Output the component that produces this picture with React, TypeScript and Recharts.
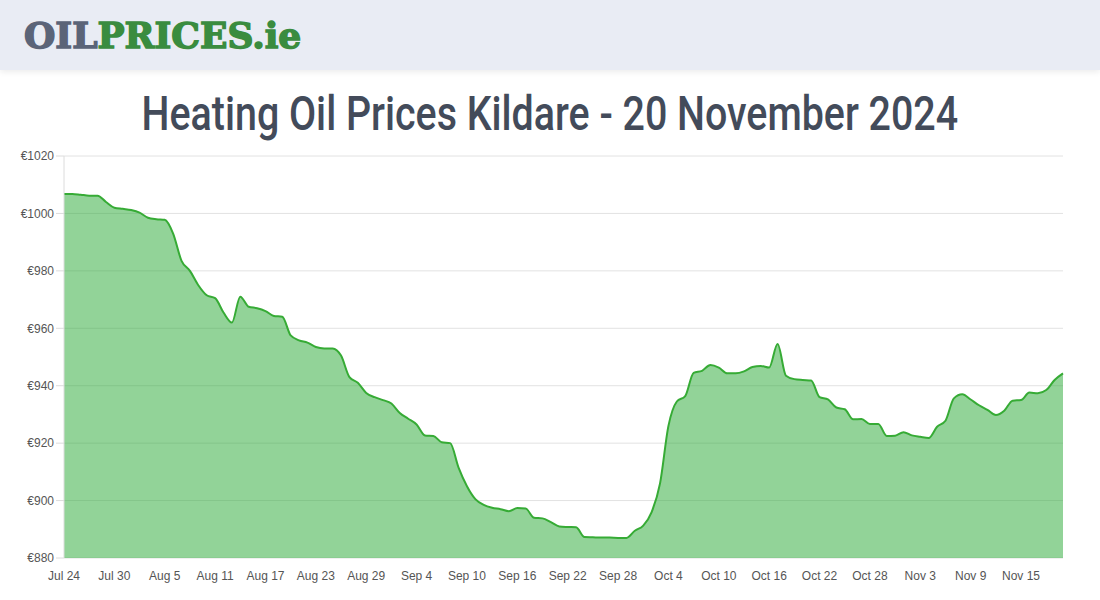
import { AreaChart, Area, XAxis, YAxis, CartesianGrid } from "recharts";

// daily dates, Jul 24 -> Nov 20 2024
const dates = [
  "Jul 24", "Jul 25", "Jul 26", "Jul 27", "Jul 28", "Jul 29", "Jul 30", "Jul 31",
  "Aug 1", "Aug 2", "Aug 3", "Aug 4", "Aug 5", "Aug 6", "Aug 7", "Aug 8", "Aug 9", "Aug 10",
  "Aug 11", "Aug 12", "Aug 13", "Aug 14", "Aug 15", "Aug 16", "Aug 17", "Aug 18", "Aug 19", "Aug 20",
  "Aug 21", "Aug 22", "Aug 23", "Aug 24", "Aug 25", "Aug 26", "Aug 27", "Aug 28", "Aug 29", "Aug 30", "Aug 31",
  "Sep 1", "Sep 2", "Sep 3", "Sep 4", "Sep 5", "Sep 6", "Sep 7", "Sep 8", "Sep 9", "Sep 10",
  "Sep 11", "Sep 12", "Sep 13", "Sep 14", "Sep 15", "Sep 16", "Sep 17", "Sep 18", "Sep 19", "Sep 20",
  "Sep 21", "Sep 22", "Sep 23", "Sep 24", "Sep 25", "Sep 26", "Sep 27", "Sep 28", "Sep 29", "Sep 30",
  "Oct 1", "Oct 2", "Oct 3", "Oct 4", "Oct 5", "Oct 6", "Oct 7", "Oct 8", "Oct 9", "Oct 10",
  "Oct 11", "Oct 12", "Oct 13", "Oct 14", "Oct 15", "Oct 16", "Oct 17", "Oct 18", "Oct 19", "Oct 20",
  "Oct 21", "Oct 22", "Oct 23", "Oct 24", "Oct 25", "Oct 26", "Oct 27", "Oct 28", "Oct 29", "Oct 30", "Oct 31",
  "Nov 1", "Nov 2", "Nov 3", "Nov 4", "Nov 5", "Nov 6", "Nov 7", "Nov 8", "Nov 9", "Nov 10",
  "Nov 11", "Nov 12", "Nov 13", "Nov 14", "Nov 15", "Nov 16", "Nov 17", "Nov 18", "Nov 19", "Nov 20",
];

// average price (EUR) per day
const prices = [
  1006.8, 1006.8, 1006.5, 1006.2, 1006.2, 1004, 1002, 1001.6, 1001.2, 1000.3,
  998.5, 998, 997.8, 993, 983.5, 980, 975, 971.5, 970.5, 965.5,
  962, 971, 967.5, 967, 966, 964.3, 964, 957.5, 955.8, 955,
  953.5, 953, 953, 950.5, 943, 941, 937.5, 936, 935, 933.8,
  930.5, 928.5, 926.5, 922.7, 922.5, 920.3, 920, 911.5, 905, 900.5,
  898.5, 897.5, 897, 896.3, 897.4, 897.2, 894, 893.8, 892.5, 891,
  890.8, 890.7, 887.3, 887.2, 887.1, 887.1, 887, 887, 889.5, 891.3,
  896, 906, 926, 934.5, 936.4, 944.5, 945.2, 947.2, 946.3, 944.3,
  944.3, 945, 946.5, 946.9, 946.3, 954.5, 943.5, 942.3, 942, 941.8,
  936, 935.2, 932.4, 931.8, 928.3, 928.4, 926.7, 926.7, 922.5, 922.6,
  923.8, 922.7, 922.2, 921.8, 925.7, 927.8, 935.6, 937, 935.2, 933.2,
  931.6, 929.8, 931.3, 934.8, 935, 937.6, 937.4, 938.5, 942, 944.3,
];

const yTicks = [880, 900, 920, 940, 960, 980, 1000, 1020];

const chartData = dates.map((d, i) => ({ date: d, price: prices[i] }));

const axisTick = { fill: "#555", fontSize: 12, fontFamily: "'Liberation Sans', Arial, sans-serif" };

export default function App() {
  return (
    <div
      style={{
        position: "absolute",
        left: 0,
        top: 0,
        width: 1100,
        height: 600,
        background: "#fff",
        overflow: "hidden",
      }}
    >
      {/* header band with logo */}
      <div
        style={{
          position: "absolute",
          left: 0,
          top: 0,
          width: 1100,
          height: 70,
          background: "#e9ecf4",
          boxShadow: "0 2px 6px rgba(0,0,0,0.08)",
        }}
      >
        <div
          style={{
            position: "absolute",
            left: 24,
            top: 12,
            fontFamily: "'DejaVu Serif', serif",
            fontWeight: 900,
            fontSize: 36,
            letterSpacing: 0,
            lineHeight: "46px",
            WebkitTextStroke: "1.5px currentColor",
          }}
        >
          <span style={{ color: "#5b6478" }}>OIL</span>
          <span style={{ color: "#3a8c3f" }}>PRICES.ie</span>
        </div>
      </div>

      <div
        style={{
          position: "absolute",
          left: 0,
          top: 86,
          width: 1100,
          textAlign: "center",
          fontFamily: "Roboto, sans-serif",
          fontWeight: 500,
          fontSize: 48,
          lineHeight: "56px",
          color: "#434b5a",
        }}
      >
        <span style={{ display: "inline-block", transform: "scaleX(0.82)", whiteSpace: "nowrap" }}>
          Heating Oil Prices Kildare - 20 November 2024
        </span>
      </div>

      <div style={{ position: "absolute", left: 0, top: 0 }}>
        <AreaChart
          width={1100}
          height={600}
          data={chartData}
          margin={{ top: 156, right: 37, bottom: 12, left: 8 }}
        >
          <CartesianGrid vertical={false} stroke="#e2e2e2" />
          <XAxis
            dataKey="date"
            interval={5}
            tickLine={false}
            axisLine={false}
            tick={axisTick}
            tickMargin={7}
          />
          <YAxis
            width={56}
            domain={[880, 1020]}
            ticks={yTicks}
            tickFormatter={(v: number) => `€${v}`}
            tick={axisTick}
            tickSize={8}
            tickMargin={2}
            stroke="#dcdcdc"
            axisLine={{ stroke: "#dcdcdc" }}
            tickLine={{ stroke: "#dcdcdc" }}
          />
          <Area
            type="monotone"
            dataKey="price"
            stroke="#36ab35"
            strokeWidth={2}
            fill="#2eaa3a"
            fillOpacity={0.52}
            dot={false}
            activeDot={false}
            isAnimationActive={false}
          />
        </AreaChart>
      </div>
    </div>
  );
}
